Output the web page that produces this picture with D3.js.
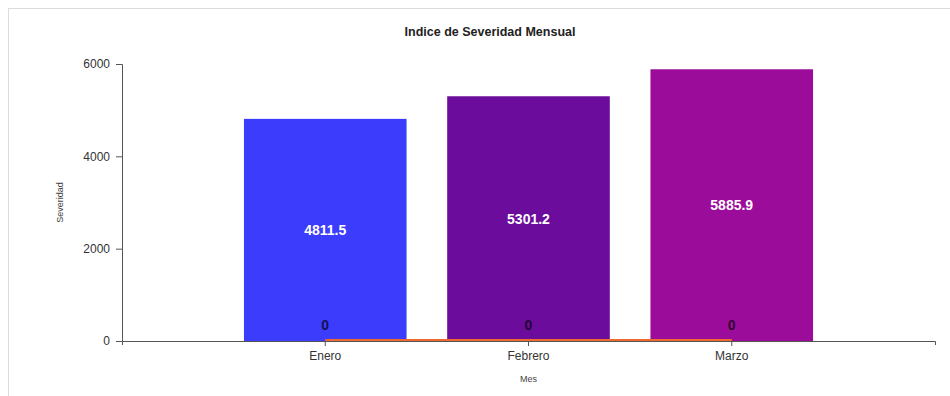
<!DOCTYPE html>
<html>
<head>
<meta charset="utf-8">
<script src="https://cdn.jsdelivr.net/npm/d3@7"></script>
<style>
  html, body { margin: 0; padding: 0; background: #fff; }
  svg { display: block; font-family: "Liberation Sans", Arial, sans-serif; }
</style>
</head>
<body>
<svg id="chart" width="950" height="396"></svg>
<script>
const categories = ["Enero", "Febrero", "Marzo"];
const severidad = [4811.5, 5301.2, 5885.9];
const secondSeries = [0, 0, 0];
const barColors = ["#3c3cfc", "#6c0c9c", "#9c0c9a"];
const yTicks = [0, 2000, 4000, 6000];
const title = "Indice de Severidad Mensual";
const xLabel = "Mes";
const yLabel = "Severidad";

(function () {
const svg = d3.select("#chart");
const mLeft = 122, mRight = 935, mTop = 64, mBottom = 341;

// card border
svg.append("rect").attr("x", 8.5).attr("y", 8.5).attr("width", 960).attr("height", 400)
  .attr("fill", "#fff").attr("stroke", "#dcdcdc").attr("stroke-width", 1);

const x = d3.scaleBand().domain(categories).range([mLeft, mRight])
  .paddingInner(0.2).paddingOuter(0.6);
const y = d3.scaleLinear().domain([0, 6000]).range([mBottom, mTop]);

// bars
svg.append("g").selectAll("rect").data(categories).join("rect")
  .attr("x", d => x(d))
  .attr("y", (d, i) => y(severidad[i]))
  .attr("width", x.bandwidth())
  .attr("height", (d, i) => y(0) - y(severidad[i]))
  .attr("fill", (d, i) => barColors[i]);

// value labels
svg.append("g").selectAll("text").data(categories).join("text")
  .attr("x", d => x(d) + x.bandwidth() / 2)
  .attr("y", (d, i) => (y(severidad[i]) + y(0)) / 2)
  .attr("dy", "0.35em")
  .attr("text-anchor", "middle")
  .attr("fill", "#fff")
  .attr("font-weight", "bold")
  .attr("font-size", 14)
  .text((d, i) => severidad[i].toFixed(1));

// second series line at zero
const line = d3.line()
  .x((d, i) => x(categories[i]) + x.bandwidth() / 2)
  .y(d => y(d) - 1);
svg.append("path").datum(secondSeries)
  .attr("d", line)
  .attr("fill", "none")
  .attr("stroke", "#ee6a2e")
  .attr("stroke-width", 2);

// zero labels
svg.append("g").selectAll("text").data(categories).join("text")
  .attr("x", d => x(d) + x.bandwidth() / 2)
  .attr("y", (d, i) => y(secondSeries[i]) - 16)
  .attr("dy", "0.35em")
  .attr("text-anchor", "middle")
  .attr("fill", "#000")
  .attr("fill-opacity", 0.7)
  .attr("font-weight", "bold")
  .attr("font-size", 14)
  .text((d, i) => secondSeries[i]);

// axes
const xAxis = svg.append("g").attr("transform", `translate(0,${mBottom})`)
  .call(d3.axisBottom(x).tickSize(5).tickSizeOuter(4).tickPadding(5));
const yAxis = svg.append("g").attr("transform", `translate(${mLeft},0)`)
  .call(d3.axisLeft(y).tickValues(yTicks).tickFormat(d3.format("d")).tickSize(6).tickSizeOuter(6).tickPadding(6));

[xAxis, yAxis].forEach(a => {
  a.selectAll("path, line").attr("stroke", "#555");
  a.selectAll("text").attr("fill", "#333").attr("font-size", 12)
    .attr("font-family", "'Liberation Sans', Arial, sans-serif");
});

// title
svg.append("text").attr("x", 490).attr("y", 36)
  .attr("text-anchor", "middle").attr("font-weight", "bold").attr("font-size", 12.5)
  .attr("fill", "#222").text(title);

// axis labels
svg.append("text").attr("x", (mLeft + mRight) / 2).attr("y", 382)
  .attr("text-anchor", "middle").attr("font-size", 9).attr("fill", "#444").text(xLabel);
svg.append("text")
  .attr("transform", `translate(63,${(mTop + mBottom) / 2}) rotate(-90)`)
  .attr("text-anchor", "middle").attr("font-size", 9).attr("fill", "#444").text(yLabel);
})();
</script>
</body>
</html>
